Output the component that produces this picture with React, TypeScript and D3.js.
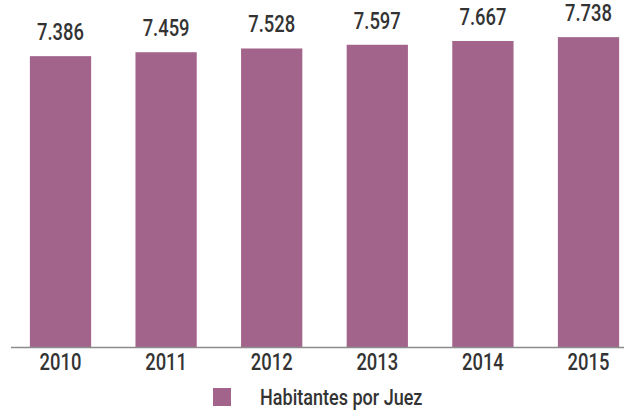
import React, { useEffect, useRef } from "react";
import * as d3 from "d3";

const years = ["2010", "2011", "2012", "2013", "2014", "2015"];
const habitantes = [7386, 7459, 7528, 7597, 7667, 7738];
const serieName = "Habitantes por Juez";

const W = 624;
const H = 416;
const barColor = "#a3648b";
const textColor = "#333333";
const FONT = "Roboto, 'Open Sans', sans-serif";
const SQUEEZE = 0.8; // la fuente original es condensada

const fmt = (v: number) => d3.format(",")(v).replace(/,/g, ".");

export default function App() {
  const ref = useRef<SVGSVGElement>(null);

  useEffect(() => {
    const svg = d3.select(ref.current);
    svg.selectAll("*").remove();

    const baseY = 347;
    const x = d3.scaleBand().domain(years).range([7.7, 641.3]).paddingInner(0.42).paddingOuter(0.21);
    const y = d3.scaleLinear().domain([2000, 8000]).range([baseY, baseY - 6000 * 0.054]);

    const data = years.map((yr, i) => ({ yr, v: habitantes[i] }));

    // barras
    svg.selectAll("rect.bar")
      .data(data)
      .enter()
      .append("rect")
      .attr("class", "bar")
      .attr("x", d => x(d.yr)!)
      .attr("y", d => y(d.v))
      .attr("width", x.bandwidth())
      .attr("height", d => baseY - y(d.v))
      .attr("fill", barColor);

    // etiquetas de valor
    svg.selectAll("g.lbl")
      .data(data)
      .enter()
      .append("g")
      .attr("class", "lbl")
      .attr("transform", d => `translate(${x(d.yr)! + x.bandwidth() / 2},${y(d.v) - 16}) scale(${SQUEEZE},1)`)
      .append("text")
      .attr("text-anchor", "middle")
      .attr("font-family", FONT)
      .attr("font-size", 23)
      .attr("font-weight", 500)
      .attr("fill", textColor)
      .text(d => fmt(d.v));

    // eje
    svg.append("line")
      .attr("x1", 11).attr("x2", W)
      .attr("y1", baseY + 0.5).attr("y2", baseY + 0.5)
      .attr("stroke", "#8c8c8c")
      .attr("stroke-width", 1.5);

    svg.selectAll("g.tick")
      .data(years)
      .enter()
      .append("g")
      .attr("class", "tick")
      .attr("transform", d => `translate(${x(d)! + x.bandwidth() / 2},370) scale(${SQUEEZE},1)`)
      .append("text")
      .attr("text-anchor", "middle")
      .attr("font-family", FONT)
      .attr("font-size", 23)
      .attr("font-weight", 500)
      .attr("fill", textColor)
      .text(d => d);

    // leyenda
    svg.append("rect")
      .attr("x", 213).attr("y", 388)
      .attr("width", 18).attr("height", 18)
      .attr("fill", barColor);
    svg.append("g")
      .attr("transform", `translate(260,405) scale(0.82,1)`)
      .append("text")
      .attr("font-family", FONT)
      .attr("font-size", 22)
      .attr("font-weight", 500)
      .attr("fill", textColor)
      .text(serieName);
  }, []);

  return (
    <svg ref={ref} width={W} height={H} style={{ position: "absolute", left: 0, top: 0, display: "block" }} />
  );
}
